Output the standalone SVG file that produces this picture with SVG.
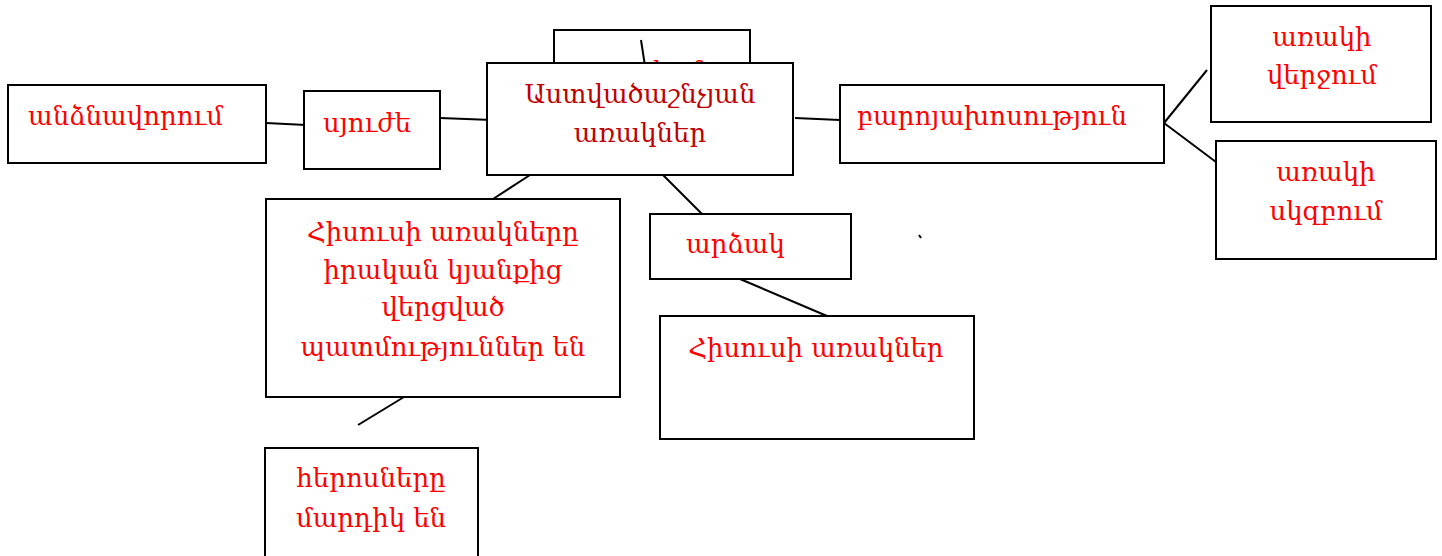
<svg xmlns="http://www.w3.org/2000/svg" width="1442" height="556" viewBox="0 0 1442 556">
<style>
rect{fill:#fff;stroke:#000;stroke-width:2}
text{font-family:"DejaVu Serif","Noto Serif","Noto Sans",serif;font-size:26px;fill:#ff0000}
.c{text-anchor:middle}
.m{fill:#c00000}
#connectors line{stroke:#000;stroke-width:2}
</style>
<rect x="0" y="0" width="1442" height="556" style="stroke:none"/>
<g id="n-hidden"><rect x="554" y="30" width="196" height="60"/><text class="c" x="652" y="80">գրական</text></g>
<g id="connectors">
<line x1="641" y1="40" x2="645" y2="66"/>
<line x1="266" y1="123" x2="306" y2="125"/>
<line x1="440" y1="118" x2="492" y2="120"/>
<line x1="795" y1="118" x2="840" y2="120"/>
<line x1="1164" y1="123" x2="1207" y2="70"/>
<line x1="1164" y1="123" x2="1216" y2="162"/>
<line x1="530" y1="175" x2="493" y2="199"/>
<line x1="663" y1="175" x2="702" y2="214"/>
<line x1="404" y1="397" x2="358" y2="425"/>
<line x1="740" y1="279" x2="827" y2="316"/>
<line x1="919" y1="235" x2="921" y2="238"/>
</g>
<g id="n-main"><rect x="487" y="63" width="306" height="112"/><text class="c m" x="640" y="103">Աստվածաշնչյան</text><text class="c m" x="640" y="142">առակներ</text></g>
<g id="n-andznavorum"><rect x="8" y="85" width="258" height="78"/><text x="28" y="125">անձնավորում</text></g>
<g id="n-syuzhe"><rect x="304" y="91" width="136" height="78"/><text x="323" y="132">սյուժե</text></g>
<g id="n-baroyakhosutyun"><rect x="840" y="85" width="324" height="78"/><text x="857" y="125">բարոյախոսություն</text></g>
<g id="n-verjum"><rect x="1211" y="6" width="220" height="116"/><text class="c" x="1322" y="46">առակի</text><text class="c" x="1322" y="84">վերջում</text></g>
<g id="n-skzbum"><rect x="1216" y="141" width="220" height="118"/><text class="c" x="1326" y="181">առակի</text><text class="c" x="1326" y="220">սկզբում</text></g>
<g id="n-hisusi1"><rect x="266" y="199" width="354" height="198"/><text class="c" x="443" y="241">Հիսուսի առակները</text><text class="c" x="443" y="279">իրական կյանքից</text><text class="c" x="443" y="316">վերցված</text><text class="c" x="443" y="356">պատմություններ են</text></g>
<g id="n-herosnere"><rect x="265" y="448" width="213" height="112"/><text class="c" x="371" y="487">հերոսները</text><text class="c" x="371" y="527">մարդիկ են</text></g>
<g id="n-ardzak"><rect x="650" y="214" width="201" height="65"/><text x="686" y="253">արձակ</text></g>
<g id="n-hisusi2"><rect x="660" y="316" width="314" height="123"/><text class="c" x="816" y="357">Հիսուսի առակներ</text></g>
</svg>
